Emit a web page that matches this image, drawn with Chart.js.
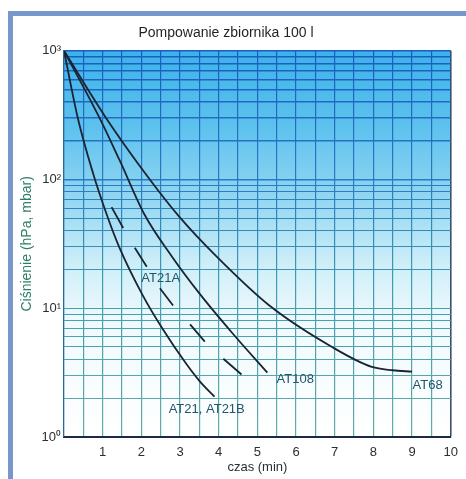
<!DOCTYPE html>
<html><head><meta charset="utf-8">
<script src="https://cdn.jsdelivr.net/npm/chart.js@4"></script>
<style>html,body{margin:0;padding:0;background:#fff;}canvas{display:block;}</style>
</head><body>
<canvas id="c" width="466" height="479"></canvas>
<script>
// ---- data (time in min, pressure in hPa) ----
const at21Time = [0, 0.361, 0.747, 1.10, 1.425, 2.036, 2.552, 3.17, 3.505, 3.89];
const at21Pressure = [1000, 297, 113, 54, 30, 12.6, 6.9, 3.67, 2.72, 2.06];
const at108Time = [0, 0.928, 1.443, 2.088, 2.784, 3.505, 4.356, 5.258];
const at108Pressure = [1000, 297, 140, 53, 25.4, 13.0, 6.4, 3.16];
const at68Time = [0, 1.10, 2.088, 2.99, 3.935, 5.31, 6.93, 7.96, 8.5, 9.0];
const at68Pressure = [1000, 297, 113, 51, 25.4, 10.5, 5.0, 3.5, 3.3, 3.22];
// dashed AT21A curve: pairs of dash ends, null = gap
const at21aTime = [1.23, 1.53, 1.68, 1.83, 2.14, 2.31, 2.48, 2.82, 3.04, 3.26, 3.64, 3.88, 4.12, 4.59];
const at21aPressure = [61, 42, null, 29.5, 21, null, 14.3, 10.5, null, 7.5, 5.5, null, 4.05, 3.06];
const curveLabels = ['AT21A', 'AT108', 'AT68', 'AT21, AT21B'];
const curveLabelTime = [2.5, 5.98, 9.4, 3.69];
const curveLabelPressure = [17, 2.8, 2.5, 1.65];
const xTickValues = [1, 2, 3, 4, 5, 6, 7, 8, 9, 10];
const yTickLabels = {1: '10\u2070', 10: '10\u00b9', 100: '10\u00b2', 1000: '10\u00b3'};

const pts = (xs, ys) => xs.map((x, i) => ({x: x, y: ys[i]}));
Chart.defaults.font.family = "'Liberation Sans', Arial, sans-serif";

function gridColor(c) {
  const ch = c.chart, a = ch.chartArea;
  if (c.scale && c.scale.axis === 'x' && c.tick && c.tick.value === 10) return '#3a5068';
  if (!a) return '#3a8ac0';
  if (!ch.$gg || ch.$ggTop !== a.top) {
    const g = ch.ctx.createLinearGradient(0, a.top, 0, a.bottom);
    g.addColorStop(0, '#1a5cc2');
    g.addColorStop(0.35, '#2a7cc0');
    g.addColorStop(0.6, '#3f9cb2');
    g.addColorStop(1, '#62aca6');
    ch.$gg = g; ch.$ggTop = a.top;
  }
  return ch.$gg;
}

const decor = {
  id: 'decor',
  beforeDraw(chart) {
    const {ctx, chartArea: a} = chart;
    ctx.save();
    ctx.fillStyle = '#ffffff';
    ctx.fillRect(0, 0, chart.width, chart.height);
    ctx.fillStyle = '#7696cc';
    ctx.fillRect(8, 11, chart.width - 8, 5);
    ctx.fillRect(8, 11, 5, chart.height - 11);
    const g = ctx.createLinearGradient(0, a.top, 0, a.bottom);
    g.addColorStop(0, '#3cb2ea');
    g.addColorStop(0.2, '#5ec2ee');
    g.addColorStop(0.38, '#92d6f2');
    g.addColorStop(0.55, '#cdeef8');
    g.addColorStop(0.7, '#effafd');
    g.addColorStop(1, '#ffffff');
    ctx.fillStyle = g;
    ctx.fillRect(a.left, a.top, a.width, a.height);
    ctx.restore();
  },
  afterDatasetsDraw(chart) {
    const {ctx} = chart, xs = chart.scales.x, ys = chart.scales.y;
    ctx.save();
    ctx.font = "13px 'Liberation Sans', Arial, sans-serif";
    ctx.fillStyle = '#22566a';
    ctx.textAlign = 'center';
    ctx.textBaseline = 'middle';
    curveLabels.forEach((t, i) => {
      ctx.fillText(t, xs.getPixelForValue(curveLabelTime[i]), ys.getPixelForValue(curveLabelPressure[i]));
    });
    ctx.restore();
  }
};

const lineStyle = {borderColor: '#1b2433', borderWidth: 1.8, pointRadius: 0, fill: false};

new Chart(document.getElementById('c'), {
  type: 'line',
  data: {
    datasets: [
      Object.assign({label: 'AT21', data: pts(at21Time, at21Pressure), cubicInterpolationMode: 'monotone'}, lineStyle),
      Object.assign({label: 'AT108', data: pts(at108Time, at108Pressure), cubicInterpolationMode: 'monotone'}, lineStyle),
      Object.assign({label: 'AT68', data: pts(at68Time, at68Pressure), cubicInterpolationMode: 'monotone'}, lineStyle),
      Object.assign({label: 'AT21A', data: pts(at21aTime, at21aPressure), tension: 0, spanGaps: false}, lineStyle)
    ]
  },
  options: {
    responsive: false,
    animation: false,
    devicePixelRatio: 1,
    layout: {padding: {left: 0, right: 14, top: 0, bottom: 0}},
    plugins: {
      legend: {display: false},
      tooltip: {enabled: false},
      title: {
        display: true,
        text: 'Pompowanie zbiornika 100 l',
        color: '#1e2226',
        font: {size: 14, weight: 'normal'},
        padding: {top: 25, bottom: 9}
      }
    },
    scales: {
      x: {
        type: 'linear',
        min: 0, max: 10,
        ticks: {
          stepSize: 0.5,
          autoSkip: false,
          maxRotation: 0,
          padding: 8,
          color: '#263032',
          font: {size: 13},
          callback: v => (xTickValues.includes(v) ? String(v) : '')
        },
        grid: {color: gridColor, lineWidth: c => (c.tick && c.tick.value === 10 ? 1.6 : 1.2), drawTicks: false},
        border: {display: true, color: '#1c2a44', width: 2},
        title: {display: true, text: 'czas (min)', color: '#263032', font: {size: 13}, padding: {top: 0, bottom: 4}},
        afterFit: s => { s.height = 42; }
      },
      y: {
        type: 'logarithmic',
        min: 1, max: 1000,
        afterBuildTicks: s => {
          s.ticks = s.ticks.filter(t => {
            const p = Math.pow(10, Math.floor(Math.log10(t.value) + 1e-9));
            const m = t.value / p;
            return Math.abs(m - Math.round(m)) < 1e-6;
          });
        },
        ticks: {
          autoSkip: false,
          padding: 3,
          color: '#263032',
          font: {size: 13},
          callback: v => (yTickLabels[v] !== undefined ? yTickLabels[v] : '')
        },
        grid: {color: gridColor, lineWidth: c => (c.tick && c.tick.value >= 100 ? 1.5 : 1.1), drawTicks: false},
        border: {display: true, color: '#2a6a9a', width: 1.2},
        title: {display: true, text: 'Ciśnienie (hPa, mbar)', color: '#2f7d68', font: {size: 14}, padding: {top: 19, bottom: 0}},
        afterFit: s => { s.width = 64; }
      }
    }
  },
  plugins: [decor]
});
</script>
</body></html>
